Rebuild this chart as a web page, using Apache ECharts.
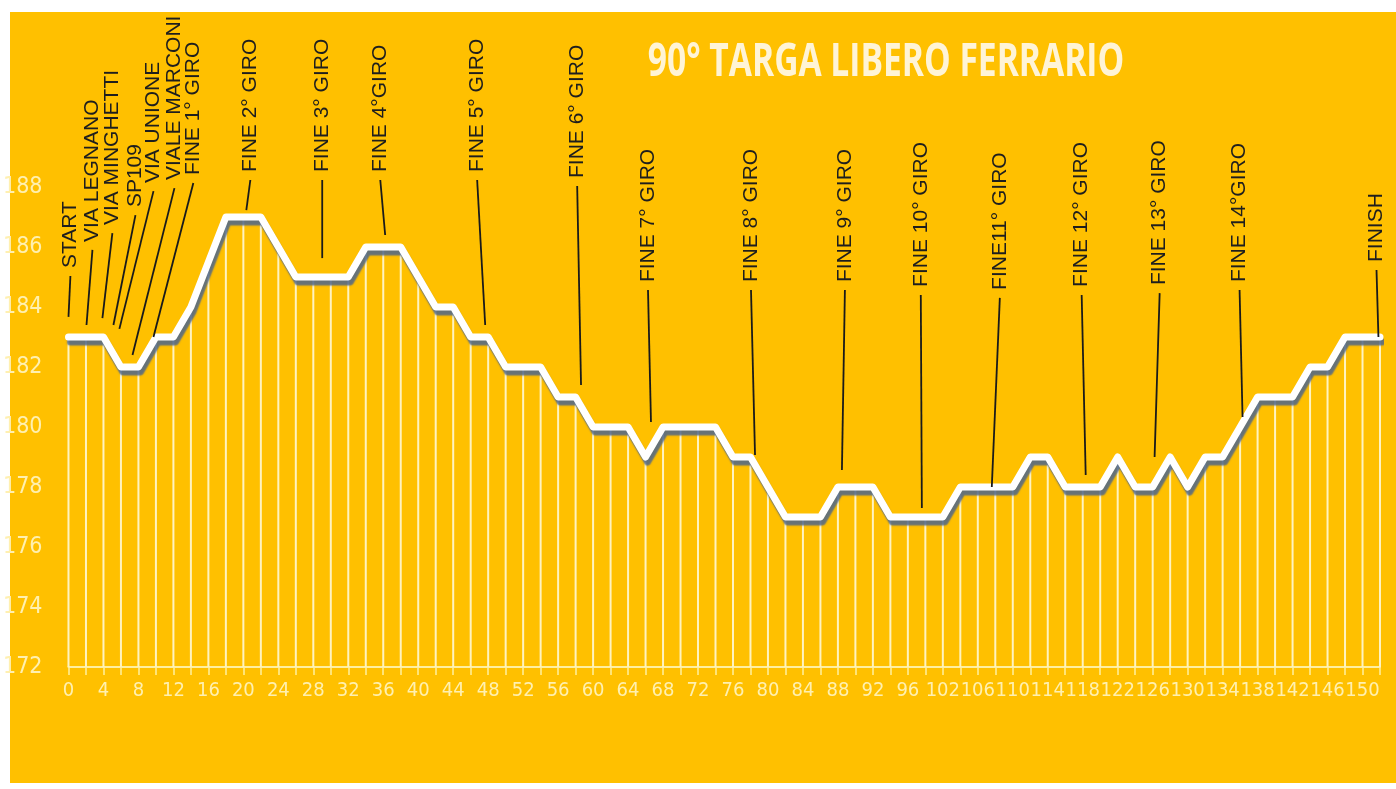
<!DOCTYPE html>
<html><head><meta charset="utf-8">
<script src="https://cdn.jsdelivr.net/npm/echarts@6/dist/echarts.min.js"></script>
<style>html,body{margin:0;padding:0;background:#fff}#c{width:1396px;height:789px}</style>
</head><body><div id="c"></div>
<script>
// x-axis distance labels (one per data point)
const kmLabels = [0,2,4,6,8,10,12,14,16,18,20,22,24,26,28,30,32,34,36,38,40,42,44,46,48,50,52,54,56,58,60,62,64,66,68,70,72,74,76,78,80,82,84,86,88,90,92,94,96,100,102,104,106,108,110,112,114,116,118,120,122,124,126,128,130,132,134,136,138,140,142,144,146,148,150,152];
// elevation (m)
const elevation = [183,183,183,182,182,183,183,184,185.5,187,187,187,186,185,185,185,185,186,186,186,185,184,184,183,183,182,182,182,181,181,180,180,180,179,180,180,180,180,179,179,178,177,177,177,178,178,178,177,177,177,177,178,178,178,178,179,179,178,178,178,179,178,178,179,178,179,179,180,181,181,181,182,182,183,183,183];
const yTicks = [172,174,176,178,180,182,184,186,188];
const titleText = '90° TARGA LIBERO FERRARIO';
// annotations: label, text column x (point index), text bottom (elevation units), leader end x (index), leader end (elevation)
const annLabels = ['START','VIA LEGNANO','VIA MINGHETTI','SP109','VIA UNIONE','VIALE MARCONI','FINE 1° GIRO','FINE 2° GIRO','FINE 3° GIRO','FINE 4°GIRO','FINE 5° GIRO','FINE 6° GIRO','FINE 7° GIRO','FINE 8° GIRO','FINE 9° GIRO','FINE 10° GIRO','FINE11° GIRO','FINE 12° GIRO','FINE 13° GIRO','FINE 14°GIRO','FINISH'];
const annTextX = [0.11,1.37,2.51,3.83,4.86,6.06,7.14,10.4,14.51,17.83,23.37,29.09,33.14,39.03,44.4,48.74,53.26,57.94,62.4,66.97,74.8];
const annTextBottom = [185.3,186.17,186.73,187.33,188.13,188.23,188.4,188.5,188.5,188.5,188.5,188.3,184.83,184.83,184.83,184.67,184.57,184.67,184.73,184.83,185.5];
const annEndX = [0,1.03,1.94,2.57,2.91,3.66,4.86,10.17,14.51,18.11,23.83,29.31,33.31,39.26,44.23,48.8,52.8,58.17,62.11,67.14,74.91];
const annEndY = [183.67,183.4,183.63,183.4,183.27,182.4,183.0,187.23,185.63,186.4,183.4,181.4,180.17,179.07,178.57,177.3,178.0,178.4,179.0,180.33,183.0];

const lineData = elevation.map((v, i) => [i, v]);
const annData = annLabels.map((l, i) => [annTextX[i], annTextBottom[i], annEndX[i], annEndY[i]]);

const chart = echarts.init(document.getElementById('c'));
const cream = '#FFF0B0';
const narrow = '"Liberation Sans Narrow", "DejaVu Sans Condensed", "Liberation Sans", sans-serif';
chart.setOption({
  animation: false,
  backgroundColor: '#ffffff',
  graphic: [
    { type: 'rect', shape: { x: 10, y: 12, width: 1386, height: 771 }, style: { fill: '#FFC000' }, z: -10 },
    { type: 'text', x: 886, y: 63, scaleX: 0.73, style: { text: titleText, font: 'bold 46px "Open Sans"', fill: '#FFF4D6', align: 'center', verticalAlign: 'middle' }, z: 10 }
  ],
  grid: { left: 68, right: 16, top: 187, bottom: 122 },
  xAxis: {
    type: 'value', min: 0, max: 75, interval: 1,
    axisLine: { show: true, lineStyle: { color: '#FFEFA0', width: 2 } },
    axisTick: { show: true, length: 8, lineStyle: { color: '#FFEFA0', width: 1.5 } },
    splitLine: { show: false },
    axisLabel: { formatter: v => (v % 2 === 0 ? String(kmLabels[v]) : ''), color: cream, fontSize: 20, margin: 14, fontFamily: narrow }
  },
  yAxis: {
    type: 'value', min: yTicks[0], max: yTicks[yTicks.length - 1], interval: 2,
    axisLine: { show: false }, axisTick: { show: false }, splitLine: { show: false },
    axisLabel: { color: cream, fontSize: 23, margin: 26, fontFamily: narrow }
  },
  series: [
    { type: 'bar', data: lineData, barWidth: 2, itemStyle: { color: '#FFF3C0' }, silent: true, z: 1 },
    { type: 'line', data: lineData, symbol: 'none', silent: true, z: 3,
      lineStyle: { color: '#ffffff', width: 7, cap: 'round', join: 'round', shadowColor: 'rgba(75,100,140,0.85)', shadowOffsetX: 2, shadowOffsetY: 5, shadowBlur: 1.5 } },
    { type: 'custom', data: annData, clip: false, silent: true, z: 5,
      renderItem: function (params, api) {
        const i = params.dataIndex;
        const t = api.coord([annTextX[i], annTextBottom[i]]);
        const p = api.coord([annEndX[i], annEndY[i]]);
        return { type: 'group', children: [
          { type: 'line', shape: { x1: t[0], y1: t[1] + 8, x2: p[0], y2: p[1] }, style: { stroke: '#1a1a1a', lineWidth: 1.8 } },
          { type: 'text', x: t[0], y: t[1], rotation: Math.PI / 2,
            style: { text: annLabels[i], fill: '#1e1e1e', font: '21px "Liberation Sans", Arial, sans-serif', align: 'left', verticalAlign: 'middle' } }
        ] };
      }
    }
  ]
});
</script></body></html>
